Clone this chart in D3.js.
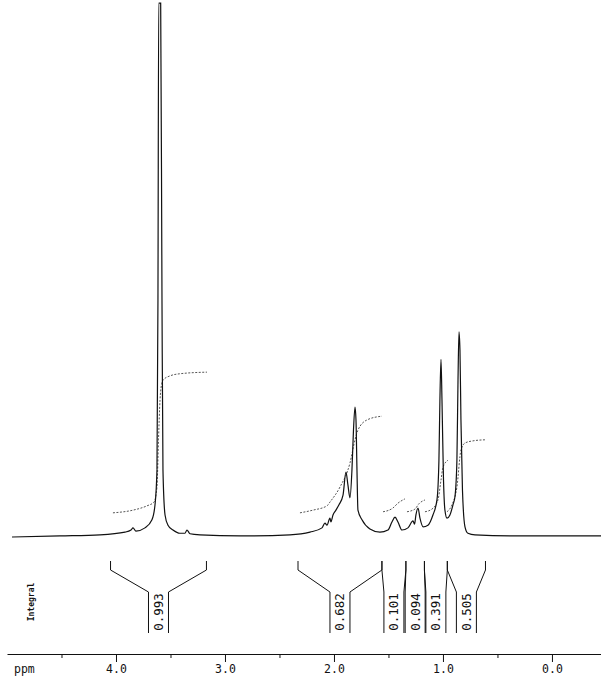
<!DOCTYPE html>
<html>
<head>
<meta charset="utf-8">
<script src="https://cdn.jsdelivr.net/npm/d3@7"></script>
<style>
  body { margin: 0; background: #fff; }
  svg { display: block; }
</style>
</head>
<body>
<div id="chart-area"></div>
<script>
// 1H NMR trace
var spectrumPpm = [4.954, 4.514, 4.147, 3.917, 3.862, 3.844, 3.817, 3.734, 3.670, 3.642,
    3.624, 3.615, 3.608, 3.590, 3.578, 3.569, 3.550, 3.523, 3.477, 3.413,
    3.367, 3.349, 3.321, 3.229, 2.862, 2.404, 2.220, 2.110, 2.083, 2.064,
    2.037, 2.028, 2.009, 1.982, 1.954, 1.917, 1.890, 1.872, 1.853, 1.835,
    1.821, 1.807, 1.798, 1.789, 1.780, 1.743, 1.670, 1.578, 1.505, 1.468,
    1.440, 1.413, 1.376, 1.321, 1.275, 1.261, 1.248, 1.229, 1.211, 1.183,
    1.138, 1.092, 1.055, 1.037, 1.028, 1.018, 1.009, 0.995, 0.982, 0.963,
    0.936, 0.908, 0.890, 0.872, 0.862, 0.853, 0.844, 0.835, 0.821, 0.798,
    0.771, 0.706, 0.294, -0.450];
var spectrumIntensity = [0, 0.2, 0.4, 0.9, 1.3, 1.7, 1.1, 1.7, 3.2, 6.0,
    12.5, 44.1, 99.4, 99.4, 44.1, 12.5, 4.1, 2.2, 1.3, 0.7,
    0.7, 1.3, 0.6, 0.4, 0.2, 0.4, 0.9, 1.7, 2.6, 2.2,
    3.5, 2.8, 4.1, 5.0, 6.0, 7.8, 12.1, 9.7, 7.3, 12.5,
    19.9, 24.2, 21.8, 12.5, 5.0, 3.2, 1.5, 0.9, 1.3, 2.8,
    3.7, 2.8, 1.3, 1.7, 3.0, 2.4, 4.1, 5.4, 3.5, 1.9,
    2.2, 4.1, 6.9, 14.3, 25.5, 33.1, 25.5, 10.6, 5.0, 3.5,
    4.1, 6.0, 7.5, 14.3, 29.2, 38.2, 34.8, 21.8, 8.7, 1.9,
    0.7, 0.4, 0.2, 0.2];

// integral traces (dashed), one list per region
var integralCurvePpm = [
    [4.028, 3.844, 3.716, 3.651, 3.624, 3.610, 3.596, 3.583, 3.569, 3.505, 3.413, 3.165],
    [2.312, 2.193, 2.064, 2.037, 1.945, 1.853, 1.807, 1.780, 1.697, 1.560],
    [1.550, 1.459, 1.413, 1.349],
    [1.330, 1.257, 1.220, 1.165],
    [1.165, 1.101, 1.046, 1.018, 1.000, 0.954],
    [0.963, 0.917, 0.872, 0.835, 0.798, 0.725, 0.615]
];
var integralCurveHeight = [
    [4.5, 5.0, 5.8, 6.5, 9.3, 18.1, 25.5, 28.3, 29.2, 30.0, 30.4, 30.7],
    [4.5, 5.0, 5.8, 6.5, 9.3, 13.8, 18.1, 19.9, 21.8, 22.5],
    [4.7, 5.4, 6.3, 7.1],
    [4.7, 5.2, 6.2, 6.9],
    [4.7, 5.2, 6.9, 10.6, 13.0, 14.3],
    [4.7, 6.0, 9.3, 16.2, 17.5, 17.9, 18.1]
];

var integralStart = [4.05, 2.33, 1.56, 1.34, 1.17, 0.96];
var integralEnd = [3.17, 1.56, 1.34, 1.17, 0.96, 0.61];
var integralValues = ['0.993', '0.682', '0.101', '0.094', '0.391', '0.505'];

var majorTicks = [4, 3, 2, 1, 0];
var minorTicks = [4.5, 3.5, 2.5, 1.5, 0.5];

var width = 601;
var height = 677;
var baseY = 537;

var svg = d3.select('#chart-area')
    .append('svg')
    .attr('width', width)
    .attr('height', height);

var x = d3.scaleLinear()
    .domain([5.0, -0.45])
    .range([7, 601]);

var y = d3.scaleLinear()
    .domain([0, 100])
    .range([baseY, 0]);

var spectrum = spectrumPpm.map((p, i) => ({ ppm: p, v: spectrumIntensity[i] }));

var line = d3.line()
    .x(d => x(d.ppm))
    .y(d => y(d.v))
    .curve(d3.curveMonotoneX);

// integral traces
integralCurvePpm.forEach((arr, k) => {
    var pts = arr.map((p, i) => ({ ppm: p, v: integralCurveHeight[k][i] }));
    svg.append('path')
        .datum(pts)
        .attr('fill', 'none')
        .attr('stroke', '#555')
        .attr('stroke-width', 1)
        .attr('stroke-dasharray', '2,1.5')
        .attr('d', line);
});

svg.append('path')
    .datum(spectrum)
    .attr('fill', 'none')
    .attr('stroke', '#111')
    .attr('stroke-width', 1.2)
    .attr('d', line);

// integral brackets
var bTop = 561, bKnee = 570, bNeck = 592, bBottom = 633, hw = 10;

integralStart.forEach((s, i) => {
    var x1 = x(s), x2 = x(integralEnd[i]);
    var cx = (x1 + x2) / 2;
    var pts = [[x1, bTop], [x1, bKnee], [cx - hw, bNeck], [cx - hw, bBottom]];
    var pts2 = [[x2, bTop], [x2, bKnee], [cx + hw, bNeck], [cx + hw, bBottom]];
    [pts, pts2].forEach(p => {
        svg.append('path')
            .attr('d', d3.line()(p))
            .attr('fill', 'none')
            .attr('stroke', '#111')
            .attr('stroke-width', 1);
    });
    svg.append('text')
        .attr('transform', `translate(${cx + 4.5}, ${612}) rotate(-90)`)
        .attr('text-anchor', 'middle')
        .attr('font-family', 'DejaVu Sans Mono, monospace')
        .attr('font-size', '12.5px')
        .attr('fill', '#111')
        .text(integralValues[i]);
});

svg.append('text')
    .attr('transform', 'translate(34, 602) rotate(-90)')
    .attr('text-anchor', 'middle')
    .attr('font-family', 'DejaVu Sans Mono, monospace')
    .attr('font-size', '8px')
    .attr('font-weight', 'bold')
    .attr('fill', '#111')
    .text('Integral');

// ppm axis
var axisY = 654;

var minorAxis = d3.axisBottom(x)
    .tickValues(minorTicks)
    .tickSize(4)
    .tickFormat('');

var majorAxis = d3.axisBottom(x)
    .tickValues(majorTicks)
    .tickSize(8)
    .tickSizeOuter(0)
    .tickPadding(3)
    .tickFormat(d3.format('.1f'));

svg.append('g')
    .attr('transform', `translate(0, ${axisY})`)
    .call(minorAxis)
    .call(g => g.select('.domain').remove());

var ax = svg.append('g')
    .attr('transform', `translate(0, ${axisY})`)
    .call(majorAxis);

ax.selectAll('text')
    .attr('font-family', 'DejaVu Sans Mono, monospace')
    .attr('font-size', '11.5px')
    .attr('fill', '#111');

svg.selectAll('.tick line, .domain').attr('stroke', '#111');

svg.append('text')
    .attr('x', 14)
    .attr('y', 673)
    .attr('font-family', 'DejaVu Sans Mono, monospace')
    .attr('font-size', '11.5px')
    .attr('fill', '#111')
    .text('ppm');
</script>
</body>
</html>
